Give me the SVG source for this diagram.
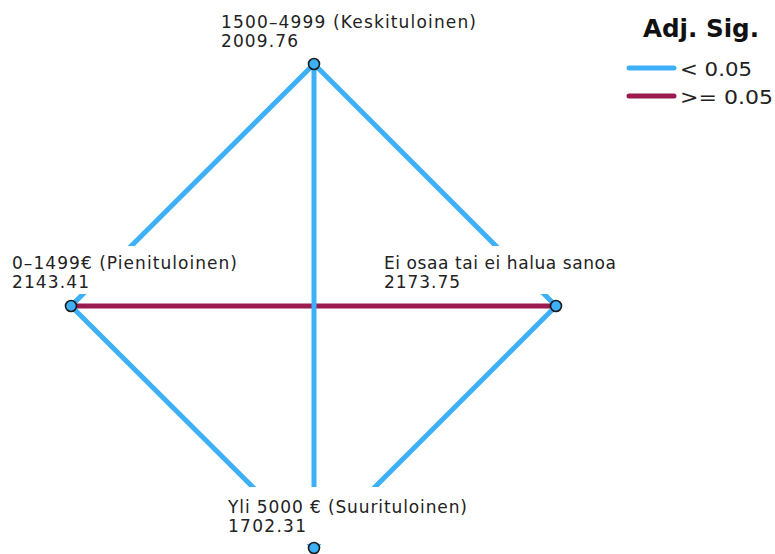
<svg xmlns="http://www.w3.org/2000/svg" width="775" height="554" viewBox="0 0 775 554">
<style>
.bg{fill:#ffffff}
.sig{stroke:#3DB0F7;stroke-width:5;fill:none}
.ns{stroke:#9B1B4F;stroke-width:5;fill:none}
.txt{font-family:"DejaVu Sans",sans-serif;font-size:17px;fill:#222222}
.node{fill:#3DB0F7;stroke:#1a1a1a;stroke-width:1.6}
.leg{font-family:"DejaVu Sans",sans-serif;font-size:20px;fill:#222222}
.legt{font-family:"DejaVu Sans",sans-serif;font-size:25px;font-weight:bold;fill:#111111}
</style>
<rect x="0" y="0" width="775" height="554" class="bg"/>
<g id="connectors">
<line class="ns" x1="71" y1="306" x2="556" y2="306"/>
<line class="sig" x1="314" y1="64" x2="71" y2="306"/>
<line class="sig" x1="314" y1="64" x2="556" y2="306"/>
<line class="sig" x1="314" y1="64" x2="314" y2="548"/>
<line class="sig" x1="71" y1="306" x2="314" y2="548"/>
<line class="sig" x1="556" y1="306" x2="314" y2="548"/>
</g>
<g id="node-keski">
<rect class="bg" x="219" y="10" width="262" height="42"/>
<text class="txt" x="221" y="28" textLength="255" lengthAdjust="spacing">1500–4999 (Keskituloinen)</text>
<text class="txt" x="221" y="46.5" textLength="77" lengthAdjust="spacing">2009.76</text>
<circle class="node" cx="314" cy="64" r="5.5"/>
</g>
<g id="node-pieni">
<rect class="bg" x="10" y="246" width="230" height="48"/>
<text class="txt" x="12" y="269" textLength="225" lengthAdjust="spacing">0–1499€ (Pienituloinen)</text>
<text class="txt" x="12" y="288" textLength="77" lengthAdjust="spacing">2143.41</text>
<circle class="node" cx="71" cy="306" r="5.5"/>
</g>
<g id="node-eos">
<rect class="bg" x="382" y="246" width="236" height="48"/>
<text class="txt" x="384" y="269" textLength="232" lengthAdjust="spacing">Ei osaa tai ei halua sanoa</text>
<text class="txt" x="384" y="288" textLength="76" lengthAdjust="spacing">2173.75</text>
<circle class="node" cx="556" cy="306" r="5.5"/>
</g>
<g id="node-suuri">
<rect class="bg" x="226" y="487" width="244" height="57"/>
<text class="txt" x="228" y="513" textLength="239" lengthAdjust="spacing">Yli 5000 € (Suurituloinen)</text>
<text class="txt" x="228" y="531.5" textLength="78" lengthAdjust="spacing">1702.31</text>
<circle class="node" cx="314" cy="548" r="5.5"/>
</g>
<g id="legend">
<text class="legt" x="643" y="37" textLength="116" lengthAdjust="spacingAndGlyphs">Adj. Sig.</text>
<line class="sig" x1="629" y1="68" x2="674" y2="68" stroke-linecap="round"/>
<text class="leg" x="680" y="76" textLength="72" lengthAdjust="spacingAndGlyphs">&lt; 0.05</text>
<line class="ns" x1="629" y1="96" x2="674" y2="96" stroke-linecap="round"/>
<text class="leg" x="680" y="104" textLength="93" lengthAdjust="spacingAndGlyphs">&gt;= 0.05</text>
</g>
</svg>
